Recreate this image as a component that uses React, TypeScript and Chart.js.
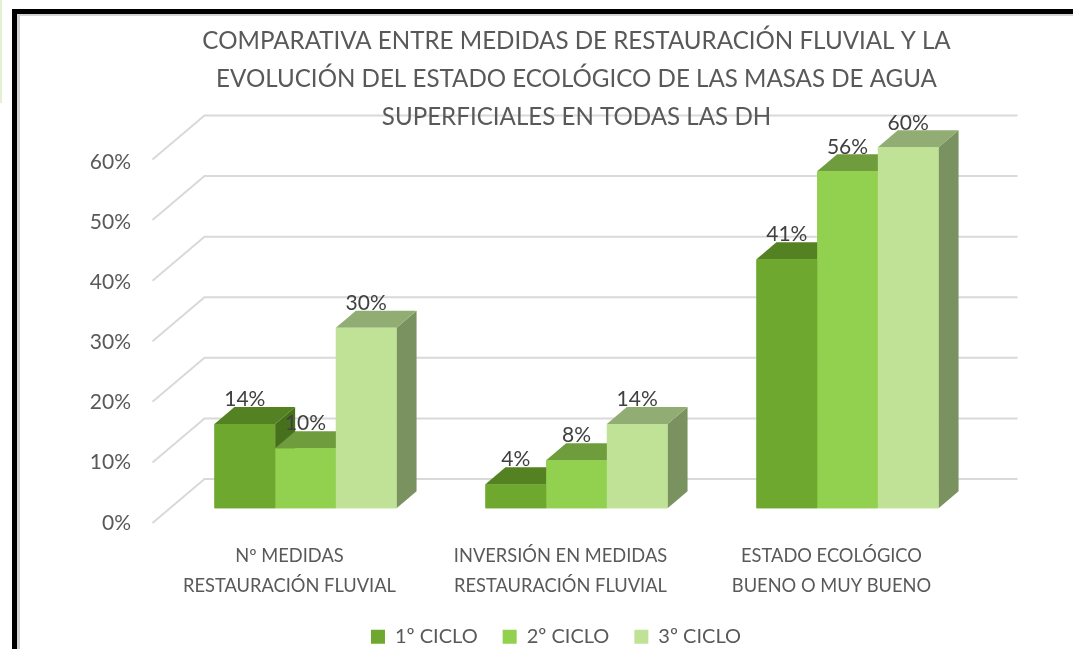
import React, { useEffect, useRef } from 'react';
import { Chart, registerables } from 'chart.js';

Chart.register(...registerables);

// ---- data ----
const categories: string[][] = [
  ['Nº MEDIDAS', 'RESTAURACIÓN FLUVIAL'],
  ['INVERSIÓN EN MEDIDAS', 'RESTAURACIÓN FLUVIAL'],
  ['ESTADO ECOLÓGICO', 'BUENO O MUY BUENO'],
];
const seriesNames = ['1º CICLO', '2º CICLO', '3º CICLO'];
const ciclo1 = [14, 4, 41.4];
const ciclo2 = [10, 8, 56];
const ciclo3 = [30, 14, 60];
const yMin = 0;
const yMax = 60;
const yStep = 10;
const titleLines = [
  'COMPARATIVA ENTRE MEDIDAS DE RESTAURACIÓN FLUVIAL Y LA',
  'EVOLUCIÓN DEL ESTADO ECOLÓGICO DE LAS MASAS DE AGUA',
  'SUPERFICIALES EN TODAS LAS DH',
];

// ---- styles ----
const frontColors = ['#6fa82f', '#92d050', '#bfe297'];
const topColors = ['#548222', '#6f9d3d', '#92ad73'];
const sideColors = ['#46701b', '#628c35', '#7a9160'];
const FONT = 'Lato, "Open Sans", sans-serif';
const DX = 20; // bar depth (x)
const DY = 17; // bar depth (y)

const plugin3d = {
  id: 'bars3d',
  beforeDraw(chart: any) {
    // walls' gridlines (drawn before title/axes so text sits on top)
    const { ctx, chartArea } = chart;
    const y = chart.scales.y;
    const y0 = y.getPixelForValue(0);
    ctx.save();
    ctx.strokeStyle = '#d9d9d9';
    ctx.lineWidth = 2;
    y.ticks.forEach((t: any) => {
      const yp = y.getPixelForValue(t.value);
      const h = (y0 - yp) * 1.007;
      const yFront = y0 + 14.7 - h;
      const yBack = y0 - 29.3 - h;
      ctx.beginPath();
      ctx.moveTo(chartArea.left - 17.5, yFront);
      ctx.lineTo(chartArea.left + 34.5, yBack);
      ctx.lineTo(chartArea.right + 34.5, yBack);
      ctx.stroke();
    });
    ctx.restore();
  },
  afterDatasetsDraw(chart: any) {
    const { ctx } = chart;
    const n = chart.data.datasets.length;
    ctx.save();
    for (let d = 0; d < n; d++) {
      const meta = chart.getDatasetMeta(d);
      meta.data.forEach((bar: any) => {
        const { x, y, base, width } = bar.getProps(['x', 'y', 'base', 'width'], true);
        const l = x - width / 2;
        const r = x + width / 2;
        ctx.fillStyle = sideColors[d];
        ctx.beginPath();
        ctx.moveTo(r, y);
        ctx.lineTo(r + DX, y - DY);
        ctx.lineTo(r + DX, base - DY);
        ctx.lineTo(r, base);
        ctx.closePath();
        ctx.fill();
        ctx.fillStyle = topColors[d];
        ctx.beginPath();
        ctx.moveTo(l, y);
        ctx.lineTo(r, y);
        ctx.lineTo(r + DX, y - DY);
        ctx.lineTo(l + DX, y - DY);
        ctx.closePath();
        ctx.fill();
        bar.draw(ctx);
      });
    }
    ctx.fillStyle = '#404040';
    ctx.font = `21px ${FONT}`;
    ctx.textAlign = 'center';
    ctx.textBaseline = 'middle';
    for (let d = 0; d < n; d++) {
      const meta = chart.getDatasetMeta(d);
      const data = chart.data.datasets[d].data;
      meta.data.forEach((bar: any, i: number) => {
        const { x, y } = bar.getProps(['x', 'y'], true);
        ctx.fillText(Math.round(data[i]) + '%', x, y - 24.5);
      });
    }
    ctx.restore();
  },
};

export default function App() {
  const ref = useRef<HTMLCanvasElement>(null);
  useEffect(() => {
    const series = [ciclo1, ciclo2, ciclo3];
    const chart = new Chart(ref.current as HTMLCanvasElement, {
      type: 'bar',
      data: {
        labels: categories,
        datasets: series.map((s, i) => ({
          label: seriesNames[i],
          data: s,
          backgroundColor: frontColors[i],
          borderWidth: 0,
          categoryPercentage: 0.672,
          barPercentage: 1,
          clip: false as any,
        })),
      },
      options: {
        responsive: false,
        animation: false,
        events: [],
        layout: { padding: { left: 80, right: 41, top: 0, bottom: 13.2 } },
        scales: {
          x: {
            grid: { display: false, drawTicks: false },
            border: { display: false },
            ticks: {
              color: '#595959',
              font: { family: FONT, size: 18.3, lineHeight: '30px' },
              padding: 32.5,
              labelOffset: -16,
              maxRotation: 0,
              minRotation: 0,
              autoSkip: false,
            },
            afterFit: (scale: any) => {
              scale.height = 93.5;
            },
          },
          y: {
            min: yMin,
            max: yMax,
            grid: { display: false, drawTicks: false },
            border: { display: false },
            ticks: {
              stepSize: yStep,
              color: '#595959',
              font: { family: FONT, size: 21 },
              padding: 39,
              labelOffset: 14.5,
              callback: (v: any) => v + '%',
            },
            afterFit: (scale: any) => {
              scale.width = 90;
            },
          },
          yRight: {
            position: 'right',
            display: true,
            grid: { display: false, drawTicks: false },
            border: { display: false },
            ticks: { display: false },
            afterFit: (scale: any) => {
              scale.width = 49;
            },
          },
        },
        plugins: {
          title: {
            display: true,
            text: titleLines,
            fullSize: false,
            color: '#595959',
            font: { family: FONT, size: 24.15, weight: 'normal', lineHeight: '38.3px' },
            padding: { top: 21.8, bottom: 10.6 },
          },
          legend: {
            position: 'bottom',
            labels: {
              color: '#595959',
              font: { family: FONT, size: 20 },
              boxWidth: 14,
              boxHeight: 14,
              padding: 25,
              sort: (a: any, b: any) => a.datasetIndex - b.datasetIndex,
            },
          },
          tooltip: { enabled: false },
        },
      },
      plugins: [plugin3d],
    } as any);
    return () => chart.destroy();
  }, []);

  return (
    <div
      style={{
        position: 'fixed',
        left: 0,
        top: 0,
        width: 1073,
        height: 649,
        overflow: 'hidden',
        background: '#ffffff',
      }}
    >
      <canvas ref={ref} width={1073} height={670} style={{ position: 'absolute', left: 0, top: 0 }} />
      <div style={{ position: 'absolute', left: 0, top: 0, width: 2, height: 103, background: '#e4f0d4' }} />
      <div style={{ position: 'absolute', left: 17, top: 14, width: 1100, height: 2, background: '#d4d4d4' }} />
      <div style={{ position: 'absolute', left: 17, top: 14, width: 3, height: 700, background: '#d4d4d4' }} />
      <div style={{ position: 'absolute', left: 12, top: 9, width: 1100, height: 5, background: '#000000' }} />
      <div style={{ position: 'absolute', left: 12, top: 9, width: 5, height: 700, background: '#000000' }} />
    </div>
  );
}
